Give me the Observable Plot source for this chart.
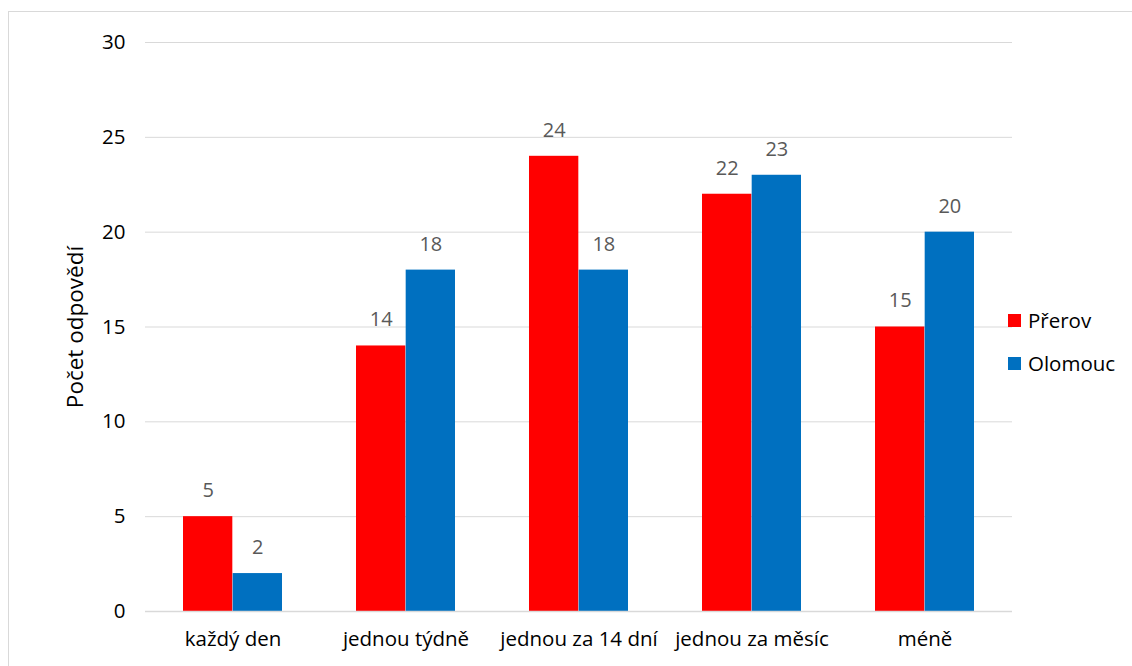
<!DOCTYPE html>
<html><head><meta charset="utf-8">
<script src="https://cdn.jsdelivr.net/npm/d3@7"></script>
<script src="https://cdn.jsdelivr.net/npm/@observablehq/plot@0.6"></script>
<style>
html,body{margin:0;padding:0;background:#fff;font-family:"Open Sans",sans-serif;overflow:hidden;}
#frame{position:absolute;left:8px;top:11px;width:1300px;height:800px;border:1px solid #d9d9d9;box-sizing:border-box;}
#chart{position:absolute;left:0;top:0;}
.leg{position:absolute;left:1008px;display:flex;align-items:center;font-size:20.5px;color:#000;white-space:nowrap;}
.leg .sw{width:13px;height:13px;margin-right:7px;}
</style></head>
<body>
<div id="frame"></div>
<div id="chart"></div>
<div id="legend"></div>
<script>
const categories = ["každý den", "jednou týdně", "jednou za 14 dní", "jednou za měsíc", "méně"];
const seriesNames = ["Přerov", "Olomouc"];
const prerov = [5, 14, 24, 22, 15];
const olomouc = [2, 18, 18, 23, 20];
const seriesColors = ["#FF0000", "#0070C0"];
const yTicks = [0, 5, 10, 15, 20, 25, 30];
const yLabel = "Počet odpovědí";

const W = 1132, H = 666, mL = 145, mR = 120, mT = 42, mB = 55;
const pInner = 0.427, pOuter = pInner / 2;
const step = (W - mL - mR) / (categories.length - pInner + 2 * pOuter);
const bw = step * (1 - pInner);
const half = bw / 2;

const rowsP = categories.map((c, i) => ({cat: c, v: prerov[i]}));
const rowsO = categories.map((c, i) => ({cat: c, v: olomouc[i]}));

const chart = Plot.plot({
  width: W, height: H,
  marginLeft: mL, marginRight: mR, marginTop: mT, marginBottom: mB,
  style: {fontFamily: "'Open Sans', sans-serif", fontSize: "20.5px", color: "#000", background: "transparent"},
  x: {domain: categories, paddingInner: pInner, paddingOuter: pOuter},
  y: {domain: [0, 30]},
  marks: [
    Plot.gridY(yTicks, {stroke: "#d9d9d9", strokeOpacity: 1}),
    Plot.barY(rowsP, {x: "cat", y: "v", fill: seriesColors[0], insetRight: half}),
    Plot.barY(rowsO, {x: "cat", y: "v", fill: seriesColors[1], insetLeft: half}),
    Plot.ruleY([0], {stroke: "#d9d9d9", strokeWidth: 1.5}),
    Plot.text(rowsP, {x: "cat", y: "v", text: d => String(d.v), dx: -half / 2, dy: -26, fill: "#595959", fontSize: 20}),
    Plot.text(rowsO, {x: "cat", y: "v", text: d => String(d.v), dx: half / 2, dy: -26, fill: "#595959", fontSize: 20}),
    Plot.axisX({tickSize: 0, tickPadding: 20, label: null, fontSize: 20.5}),
    Plot.axisY(yTicks, {tickSize: 0, tickPadding: 20, label: null, fontSize: 20.5}),
    Plot.text([yLabel], {frameAnchor: "left", textAnchor: "middle", lineAnchor: "middle", dx: -70, rotate: -90, fontSize: 22.5, fill: "#000"})
  ]
});
document.getElementById("chart").appendChild(chart);

const legend = document.getElementById("legend");
const legTops = [320, 363];
seriesNames.forEach((name, i) => {
  const d = document.createElement("div");
  d.className = "leg";
  d.style.top = (legTops[i] - 14) + "px";
  d.style.height = "28px";
  const sw = document.createElement("span");
  sw.className = "sw";
  sw.style.background = seriesColors[i];
  const t = document.createElement("span");
  t.textContent = name;
  d.appendChild(sw); d.appendChild(t);
  legend.appendChild(d);
});
</script>
</body></html>
